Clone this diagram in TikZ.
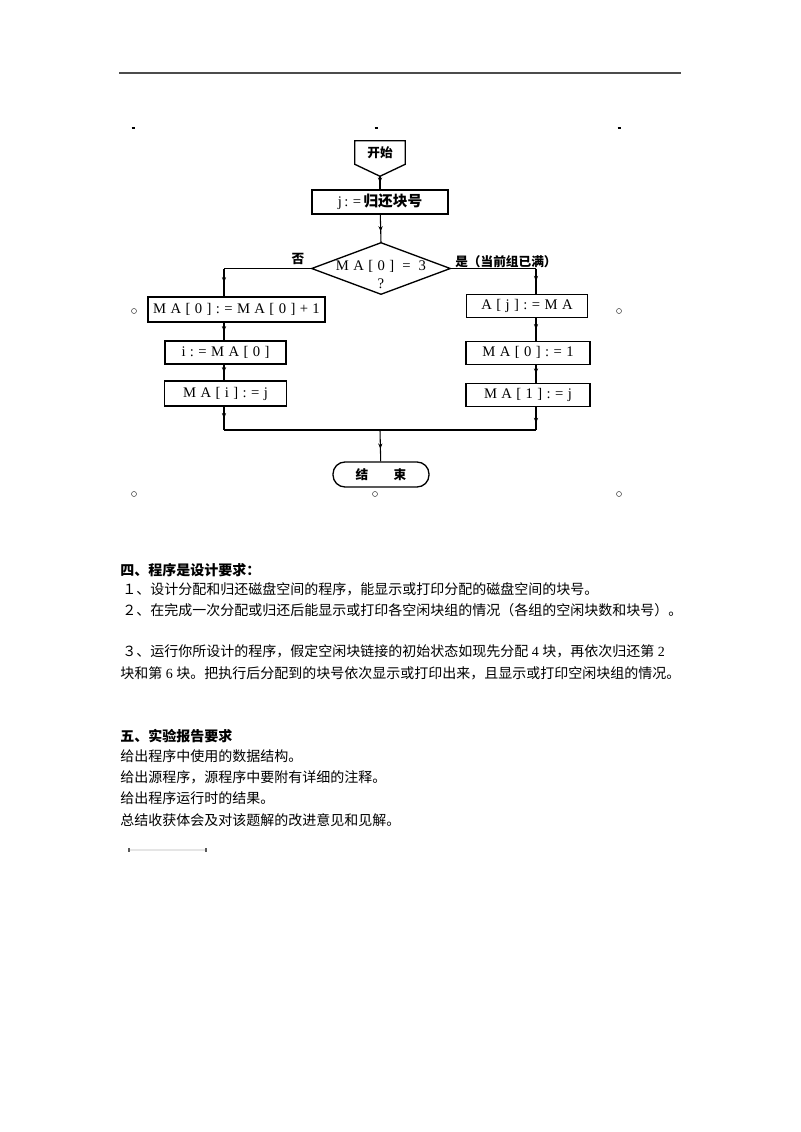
\documentclass[tikz,border=0pt]{standalone}
\usepackage{fontspec}
\setmainfont{Liberation Serif}
\newfontfamily\cjk{Noto Sans CJK SC}
\newfontfamily\flowserif{Liberation Serif}[LetterSpace=30]
\usetikzlibrary{arrows.meta, positioning, decorations.markings}

\newcommand\flowfont{\fontsize{11}{13}\selectfont\flowserif}
\newcommand\bodyfont{\fontsize{10.5}{12}\selectfont\cjk}
\newcommand\lblfont{\fontsize{9.5}{11}\selectfont\cjk\bfseries}

\tikzset{
  shapeline/.style = {line width=1pt},
  proc/.style = {draw, line width=1pt, inner sep=0pt, minimum height=18pt, font=\flowfont},
  flow/.style = {line width=0.8pt, postaction={decorate},
    decoration={markings, mark=at position #1 with {\arrow{Stealth[length=4pt, width=3.2pt]}}}},
  flow/.default = 0.5,
  body/.style = {anchor=west, inner sep=0pt, font=\bodyfont},
  anchormark/.style = {line width=0.4pt, gray!60!black}
}

\begin{document}
\begin{tikzpicture} [x=0.75pt, y=-0.75pt, on grid]
\useasboundingbox (0,0) rectangle (800,1132);

% page header rule and layout marks
\draw [gray!60!black, line width=1.3pt] (119,73) -- (681,73);
\foreach \x in {133,376,619}
    \draw [line width=0.9pt] (\x-1.5,128) -- (\x+1.5,128);
\foreach \p in {(134,311),(619,311),(134,494),(375,494),(619,494)}
    \draw [anchormark] \p circle (1.9pt);

% flowchart
\node (start) [minimum width=37.5pt, minimum height=17.25pt, inner sep=0pt, font=\lblfont] at (380,152.5) {开始};
\draw [shapeline] (start.north west) -- (start.north east) -- (start.south east)
    -- ([yshift=-9pt]start.south) -- (start.south west) -- cycle;
\coordinate (starttip) at ([yshift=-9pt]start.south);

\node (assign) [proc, minimum width=102pt] at (380,202) {j\,:=\,{\cjk\bfseries 归还块号}};

\node (test) [minimum width=103.5pt, minimum height=38.25pt, inner sep=0pt] at (381,268.5) {};
\draw [shapeline] (test.north) -- (test.east) -- (test.south) -- (test.west) -- cycle;
\node (testtext) [align=center, inner sep=0pt, font=\flowfont] at ([yshift=-4.5pt]test.center) {MA[0] = 3\\?};

\node (nolbl) [font=\lblfont] at (298,259) {否};
\node (yeslbl) [anchor=west, inner sep=0pt, font=\lblfont] at (455,262) {是（当前组已满）};

\node (l1) [proc, minimum width=132.75pt, minimum height=18.75pt] at (236.5,309.5) {MA[0]:=MA[0]+1};
\node (l2) [proc, minimum width=90.75pt, minimum height=17.25pt, below left=32.25pt and 8.25pt of l1] {i:=MA[0]};
\node (l3) [proc, minimum width=91.5pt, minimum height=18.75pt, below=30.75pt of l2] {MA[i]:=j};

\node (r1) [proc, minimum width=90.75pt, minimum height=17.25pt] at (527,306) {A[j]:=MA};
\node (r2) [proc, minimum width=93pt, minimum height=17.25pt, below right=35pt and 0.75pt of r1] {MA[0]:=1};
\node (r3) [proc, minimum width=93pt, minimum height=17.25pt, below=31.5pt of r2] {MA[1]:=j};

\node (stop) [draw, line width=1pt, rounded corners=9pt, minimum width=72pt, minimum height=18.75pt,
    inner sep=0pt, font=\lblfont] at (381,474.5) {结\quad\quad 束};

\coordinate (nobend) at (224,268.5);
\coordinate (yesbend) at (536,268.5);
\coordinate (join) at (380,430);

\draw [flow] (starttip) -- (assign);
\draw [flow=0.6] (assign) -- (test.north);
\draw [line width=0.8pt] (test.west) -- (nobend);
\draw [flow] (nobend) -- (nobend |- l1.north);
\draw [line width=0.8pt] (test.east) -- (yesbend);
\draw [flow] (yesbend) -- (yesbend |- r1.north);
\draw [flow] (nobend |- l1.south) -- (nobend |- l2.north);
\draw [flow] (nobend |- l2.south) -- (nobend |- l3.north);
\draw [flow] (yesbend |- r1.south) -- (yesbend |- r2.north);
\draw [flow] (yesbend |- r2.south) -- (yesbend |- r3.north);
\draw [flow] (nobend |- l3.south) -- (nobend |- join);
\draw [flow=0.7] (yesbend |- r3.south) -- (yesbend |- join);
\draw [line width=0.8pt] (nobend |- join) -- (yesbend |- join);
\draw [flow=0.6] (join) -- (stop);

% requirements text
\node (sec4) [body, font=\bodyfont\bfseries] at (120,570) {四、程序是设计要求：};
\node (req1) [body] at (122,589) {１、设计分配和归还磁盘空间的程序，能显示或打印分配的磁盘空间的块号。};
\node (req2) [body] at (122,610) {２、在完成一次分配或归还后能显示或打印各空闲块组的情况（各组的空闲块数和块号）。};
\node (req3a) [body] at (122,651) {３、运行你所设计的程序，假定空闲块链接的初始状态如现先分配{\rmfamily\ 4 }块，再依次归还第{\rmfamily\ 2}};
\node (req3b) [body] at (120,673) {块和第{\rmfamily\ 6 }块。把执行后分配到的块号依次显示或打印出来，且显示或打印空闲块组的情况。};

\node (sec5) [body, font=\bodyfont\bfseries] at (120,736) {五、实验报告要求};
\node (rep1) [body] at (120,756) {给出程序中使用的数据结构。};
\node (rep2) [body] at (120,777) {给出源程序，源程序中要附有详细的注释。};
\node (rep3) [body] at (120,798) {给出程序运行时的结果。};
\node (rep4) [body] at (120,820) {总结收获体会及对该题解的改进意见和见解。};

% corner mark
\draw [gray!20, line width=1.2pt] (129,850) -- (206,850);
\draw [gray!70!black, line width=0.8pt] (129,848) -- (129,852);
\draw [gray!70!black, line width=0.8pt] (206,848) -- (206,852);
\end{tikzpicture}
\end{document}
